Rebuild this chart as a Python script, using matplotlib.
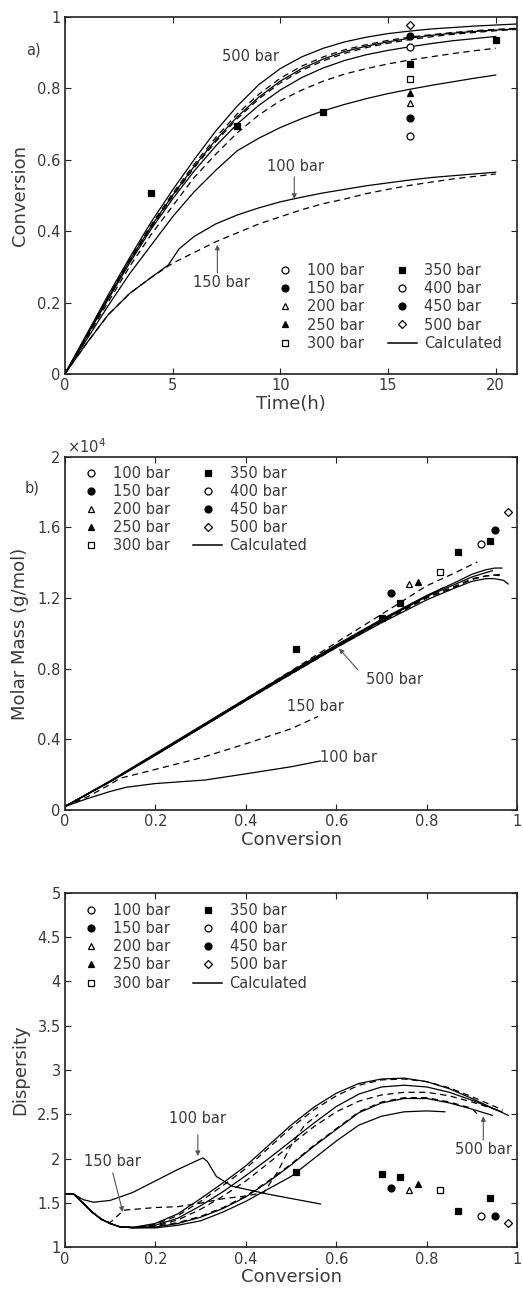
import matplotlib
matplotlib.use("Agg")
import matplotlib.pyplot as plt

plt.rcParams['font.family'] = ['DejaVu Sans']

TXT = '#3a3a3a'

# ---------------- legend entries ----------------
pressures = ['100 bar', '150 bar', '200 bar', '250 bar', '300 bar',
             '350 bar', '400 bar', '450 bar', '500 bar']
markers = ['o', 'o', '^', '^', 's', 's', 'o', 'o', 'D']
filled = [False, True, False, True, False, True, False, True, False]

# ---------------- panel a: conversion vs time ----------------
t_full = [0, 1, 2, 3, 4, 5, 6, 7, 8, 9, 10, 11, 12, 13, 14, 15, 16, 17, 18, 19, 20, 21]
t_20 = t_full[:21]
t_100 = [0, 1, 2, 3, 4, 4.8, 5.3, 6, 7, 8, 9, 10, 11, 12, 13, 14, 15, 16, 17, 18, 19, 20]
conv_100 = [0, 0.085, 0.165, 0.225, 0.27, 0.305, 0.35, 0.385, 0.42, 0.445, 0.465, 0.482,
            0.495, 0.507, 0.517, 0.527, 0.535, 0.543, 0.55, 0.555, 0.56, 0.565]
conv_150 = [0, 0.085, 0.165, 0.225, 0.27, 0.31, 0.34, 0.37, 0.395, 0.42, 0.44, 0.46,
            0.477, 0.49, 0.505, 0.517, 0.528, 0.537, 0.546, 0.553, 0.56]
conv_200 = [0, 0.095, 0.19, 0.28, 0.36, 0.44, 0.51, 0.57, 0.625, 0.66, 0.69, 0.715,
            0.737, 0.755, 0.771, 0.785, 0.797, 0.808, 0.818, 0.828, 0.837]
conv_250 = [0, 0.1, 0.2, 0.3, 0.39, 0.47, 0.55, 0.615, 0.675, 0.725, 0.765, 0.795,
            0.82, 0.84, 0.855, 0.868, 0.879, 0.888, 0.897, 0.905, 0.912]
conv_300 = [0, 0.104, 0.208, 0.31, 0.405, 0.49, 0.568, 0.638, 0.70, 0.752, 0.795, 0.83,
            0.857, 0.878, 0.894, 0.906, 0.916, 0.925, 0.933, 0.939, 0.945]
conv_350 = [0, 0.105, 0.21, 0.315, 0.41, 0.497, 0.577, 0.65, 0.715, 0.77, 0.815, 0.85,
            0.877, 0.898, 0.914, 0.926, 0.936, 0.944, 0.951, 0.956, 0.961, 0.965]
conv_400 = [0, 0.106, 0.212, 0.317, 0.413, 0.5, 0.581, 0.655, 0.72, 0.775, 0.82, 0.855,
            0.882, 0.903, 0.918, 0.93, 0.94, 0.948, 0.954, 0.959, 0.963, 0.966]
conv_450 = [0, 0.107, 0.214, 0.32, 0.417, 0.505, 0.587, 0.662, 0.728, 0.783, 0.828, 0.862,
            0.888, 0.908, 0.922, 0.934, 0.943, 0.95, 0.956, 0.961, 0.965, 0.968]
conv_500 = [0, 0.11, 0.22, 0.325, 0.425, 0.515, 0.60, 0.68, 0.75, 0.81, 0.855, 0.888,
            0.912, 0.93, 0.943, 0.953, 0.96, 0.966, 0.97, 0.974, 0.977, 0.98]

# experimental points (time, conversion) per pressure
exp_time = [[16], [16], [16], [16], [16], [4, 8, 12, 16, 20], [16], [16], [16]]
exp_conv = [[0.667], [0.717], [0.759], [0.787], [0.826],
            [0.506, 0.694, 0.734, 0.868, 0.935], [0.916], [0.945], [0.978]]

# ---------------- panel b: molar mass vs conversion ----------------
mb_x_100 = [0, 0.05, 0.1, 0.136, 0.2, 0.31, 0.4, 0.5, 0.565]
mb_y_100 = [200, 650, 1050, 1290, 1500, 1700, 2050, 2450, 2780]
mb_x_150 = [0, 0.05, 0.1, 0.122, 0.2, 0.3, 0.4, 0.5, 0.56]
mb_y_150 = [200, 750, 1450, 1800, 2300, 2950, 3750, 4600, 5300]
mb_x_200 = [0, 0.1, 0.2, 0.3, 0.4, 0.5, 0.6, 0.7, 0.8, 0.837]
mb_y_200 = [200, 1600, 3100, 4650, 6200, 7750, 9250, 10700, 12100, 12600]
mb_x_250 = [0, 0.1, 0.2, 0.3, 0.4, 0.5, 0.6, 0.7, 0.8, 0.86, 0.912]
mb_y_250 = [200, 1630, 3150, 4720, 6300, 7880, 9480, 11080, 12700, 13400, 14050]
mb_x_300 = [0, 0.1, 0.2, 0.3, 0.4, 0.5, 0.6, 0.7, 0.8, 0.86, 0.9, 0.945]
mb_y_300 = [200, 1620, 3150, 4700, 6250, 7800, 9300, 10750, 12100, 12750, 13200, 13550]
mb_x_350 = [0, 0.1, 0.2, 0.3, 0.4, 0.5, 0.6, 0.7, 0.8, 0.86, 0.9, 0.93, 0.965]
mb_y_350 = [200, 1600, 3120, 4650, 6200, 7700, 9200, 10650, 12000, 12600, 13050, 13250, 13350]
mb_x_400 = [0, 0.1, 0.2, 0.3, 0.4, 0.5, 0.6, 0.7, 0.8, 0.86, 0.9, 0.93, 0.95, 0.966]
mb_y_400 = [200, 1650, 3200, 4750, 6300, 7850, 9350, 10800, 12150, 12850, 13350, 13600, 13700, 13700]
mb_x_450 = [0, 0.1, 0.2, 0.3, 0.4, 0.5, 0.6, 0.7, 0.8, 0.86, 0.9, 0.93, 0.95, 0.968]
mb_y_450 = [200, 1610, 3130, 4680, 6220, 7750, 9250, 10700, 12050, 12650, 13100, 13250, 13300, 13250]
mb_x_500 = [0, 0.1, 0.2, 0.3, 0.4, 0.5, 0.6, 0.7, 0.8, 0.86, 0.9, 0.93, 0.95, 0.97, 0.98]
mb_y_500 = [200, 1600, 3100, 4650, 6200, 7700, 9200, 10600, 11900, 12550, 12950, 13100, 13100, 13000, 12800]

exp_mb_x = [[], [0.72], [0.76], [0.78], [0.83], [0.51, 0.70, 0.74, 0.87, 0.94], [0.92], [0.95], [0.98]]
exp_mb_y = [[], [12300], [12800], [12900], [13500], [9100, 10900, 11700, 14600, 15250],
            [15060], [15850], [16900]]

# ---------------- panel c: dispersity vs conversion ----------------
dc_x_100 = [0, 0.02, 0.04, 0.063, 0.1, 0.15, 0.2, 0.25, 0.305, 0.315, 0.335, 0.37, 0.45, 0.565]
dc_y_100 = [1.6, 1.6, 1.54, 1.51, 1.53, 1.62, 1.75, 1.88, 2.01, 1.97, 1.80, 1.69, 1.60, 1.49]
dc_x_150 = [0, 0.02, 0.04, 0.06, 0.08, 0.1, 0.13, 0.2, 0.25, 0.3, 0.35, 0.4, 0.44, 0.47, 0.5, 0.53, 0.56]
dc_y_150 = [1.6, 1.6, 1.5, 1.4, 1.32, 1.28, 1.42, 1.45, 1.46, 1.5, 1.55, 1.58, 1.62, 1.85, 2.15, 2.38, 2.5]
dc_x_200 = [0, 0.02, 0.04, 0.06, 0.08, 0.1, 0.12, 0.15, 0.2, 0.25, 0.3, 0.35, 0.4, 0.45, 0.5,
            0.55, 0.6, 0.65, 0.7, 0.75, 0.8, 0.84]
dc_y_200 = [1.6, 1.6, 1.5, 1.4, 1.32, 1.27, 1.235, 1.22, 1.22, 1.25, 1.3, 1.4, 1.52, 1.66, 1.8,
            2.0, 2.2, 2.38, 2.48, 2.53, 2.54, 2.53]
dc_x_band = [0, 0.02, 0.04, 0.06, 0.08, 0.1, 0.12, 0.15, 0.2, 0.25, 0.3, 0.35, 0.4, 0.45, 0.5,
             0.55, 0.6, 0.65, 0.7, 0.75, 0.8, 0.85, 0.9]
dc_y_250 = [1.6, 1.6, 1.5, 1.4, 1.32, 1.27, 1.235, 1.222, 1.235, 1.28, 1.35, 1.45, 1.58, 1.75,
            1.94, 2.15, 2.34, 2.53, 2.64, 2.69, 2.69, 2.64, 2.57]
dc_y_300 = [1.6, 1.6, 1.5, 1.4, 1.32, 1.27, 1.235, 1.222, 1.23, 1.27, 1.34, 1.44, 1.57, 1.74,
            1.93, 2.14, 2.33, 2.52, 2.63, 2.68, 2.68, 2.63, 2.56]
dc_y_350 = [1.6, 1.6, 1.5, 1.4, 1.32, 1.27, 1.235, 1.225, 1.24, 1.31, 1.43, 1.58, 1.75, 1.95,
            2.16, 2.36, 2.53, 2.65, 2.72, 2.75, 2.75, 2.71, 2.64]
dc_y_400 = [1.6, 1.6, 1.5, 1.4, 1.32, 1.27, 1.235, 1.225, 1.25, 1.33, 1.47, 1.63, 1.81, 2.0,
            2.2, 2.4, 2.59, 2.73, 2.81, 2.83, 2.81, 2.75, 2.66]
dc_y_450 = [1.6, 1.6, 1.5, 1.4, 1.32, 1.27, 1.235, 1.225, 1.26, 1.36, 1.52, 1.70, 1.89, 2.12,
            2.35, 2.55, 2.71, 2.83, 2.89, 2.9, 2.87, 2.8, 2.7]
dc_y_500 = [1.6, 1.6, 1.5, 1.4, 1.32, 1.27, 1.235, 1.225, 1.27, 1.38, 1.55, 1.73, 1.92, 2.15,
            2.38, 2.58, 2.74, 2.85, 2.9, 2.91, 2.87, 2.79, 2.68]
dc_end_x = {'250': [0.912], '300': [0.945], '350': [0.95, 0.965], '400': [0.95, 0.966],
            '450': [0.95, 0.968], '500': [0.95, 0.98]}
dc_end_y = {'250': [2.5], '300': [2.49], '350': [2.56, 2.53], '400': [2.56, 2.53],
            '450': [2.59, 2.55], '500': [2.56, 2.49]}

exp_dc_x = [[], [0.72], [0.76], [0.78], [0.83], [0.51, 0.70, 0.74, 0.87, 0.94], [0.92], [0.95], [0.98]]
exp_dc_y = [[], [1.67], [1.65], [1.71], [1.65], [1.85, 1.83, 1.80, 1.41, 1.56], [1.36], [1.35], [1.28]]

# ---------------- drawing helpers ----------------
LW = 0.9
DASH = (0, (5, 3.5))


def style_axes(ax):
    for s in ax.spines.values():
        s.set_linewidth(1.2)
        s.set_color('#222222')
    ax.tick_params(direction='in', top=True, right=True, length=4, width=0.8,
                   labelsize=10.5, labelcolor=TXT, color='#222222', pad=3)


def draw_points(ax, xs, ys):
    for i in range(len(pressures)):
        if len(xs[i]) == 0:
            continue
        ax.plot(xs[i], ys[i], linestyle='none', marker=markers[i],
                markersize=5 if markers[i] != 'D' else 4.3,
                markerfacecolor='black' if filled[i] else 'white',
                markeredgecolor='black', markeredgewidth=0.9, zorder=5)


def add_legend(ax, loc, anchor):
    handles = []
    for i in range(len(pressures)):
        h, = ax.plot([], [], linestyle='none', marker=markers[i],
                     markersize=5 if markers[i] != 'D' else 4.3,
                     markerfacecolor='black' if filled[i] else 'white',
                     markeredgecolor='black', markeredgewidth=0.9)
        handles.append(h)
    hl, = ax.plot([], [], color='black', lw=LW + 0.2)
    handles.append(hl)
    labels = pressures + ['Calculated']
    leg = ax.legend(handles, labels, ncol=2, frameon=False, loc=loc,
                    bbox_to_anchor=anchor, fontsize=10.5, handlelength=2.0,
                    handletextpad=0.5, columnspacing=1.6, labelspacing=0.22,
                    borderaxespad=0.0, borderpad=0.0)
    for txt in leg.get_texts():
        txt.set_color(TXT)
    return leg


def note(ax, text, xy_text, xy_arrow_from=None, xy_arrow_to=None):
    ax.text(xy_text[0], xy_text[1], text, ha='center', va='center',
            fontsize=10.5, color=TXT, zorder=6)
    if xy_arrow_from is not None:
        ax.annotate('', xy=xy_arrow_to, xytext=xy_arrow_from,
                    arrowprops=dict(arrowstyle='-|>', color='#555555', lw=0.8,
                                    mutation_scale=7, shrinkA=0, shrinkB=0))


fig = plt.figure(figsize=(5.23, 12.94), dpi=100)

# ---------------- panel a ----------------
ax1 = fig.add_axes([0.124, 0.711, 0.865, 0.276])
ax1.plot(t_100, conv_100, color='black', lw=LW)
ax1.plot(t_20, conv_150, color='black', lw=LW, linestyle=DASH)
ax1.plot(t_20, conv_200, color='black', lw=LW)
ax1.plot(t_20, conv_250, color='black', lw=LW, linestyle=DASH)
ax1.plot(t_20, conv_300, color='black', lw=LW)
ax1.plot(t_full, conv_350, color='black', lw=LW, linestyle=DASH)
ax1.plot(t_full, conv_400, color='black', lw=LW)
ax1.plot(t_full, conv_450, color='black', lw=LW, linestyle=DASH)
ax1.plot(t_full, conv_500, color='black', lw=LW)
draw_points(ax1, exp_time, exp_conv)
ax1.set_xlim(0, 21)
ax1.set_ylim(0, 1)
ax1.set_xticks([0, 5, 10, 15, 20])
ax1.set_yticks([0, 0.2, 0.4, 0.6, 0.8, 1.0])
ax1.set_yticklabels(['0', '0.2', '0.4', '0.6', '0.8', '1'])
ax1.set_xlabel('Time(h)', fontsize=13, color=TXT, labelpad=1)
ax1.set_ylabel('Conversion', fontsize=13, color=TXT, labelpad=6)
style_axes(ax1)
add_legend(ax1, 'lower left', (0.455, 0.065))
ax1.text(-0.07, 0.907, 'a)', transform=ax1.transAxes, fontsize=10.5, color=TXT,
         ha='center', va='center')
note(ax1, '500 bar', (8.6, 0.888))
note(ax1, '100 bar', (10.7, 0.58), (10.65, 0.552), (10.65, 0.49))
note(ax1, '150 bar', (7.27, 0.255), (7.08, 0.283), (7.08, 0.362))

# ---------------- panel b ----------------
ax2 = fig.add_axes([0.124, 0.374, 0.865, 0.273])
ax2.plot(mb_x_100, mb_y_100, color='black', lw=LW)
ax2.plot(mb_x_150, mb_y_150, color='black', lw=LW, linestyle=DASH)
ax2.plot(mb_x_200, mb_y_200, color='black', lw=LW)
ax2.plot(mb_x_250, mb_y_250, color='black', lw=LW, linestyle=DASH)
ax2.plot(mb_x_300, mb_y_300, color='black', lw=LW)
ax2.plot(mb_x_350, mb_y_350, color='black', lw=LW, linestyle=DASH)
ax2.plot(mb_x_400, mb_y_400, color='black', lw=LW)
ax2.plot(mb_x_450, mb_y_450, color='black', lw=LW, linestyle=DASH)
ax2.plot(mb_x_500, mb_y_500, color='black', lw=LW)
draw_points(ax2, exp_mb_x, exp_mb_y)
ax2.set_xlim(0, 1)
ax2.set_ylim(0, 20000)
ax2.set_xticks([0, 0.2, 0.4, 0.6, 0.8, 1.0])
ax2.set_xticklabels(['0', '0.2', '0.4', '0.6', '0.8', '1'])
ax2.set_yticks([0, 4000, 8000, 12000, 16000, 20000])
ax2.set_yticklabels(['0', '0.4', '0.8', '1.2', '1.6', '2'])
ax2.set_xlabel('Conversion', fontsize=13, color=TXT, labelpad=1)
ax2.set_ylabel('Molar Mass (g/mol)', fontsize=13, color=TXT, labelpad=6)
style_axes(ax2)
ax2.text(0.005, 1.003, r'$\times10^{4}$', transform=ax2.transAxes, fontsize=10.5,
         color=TXT, ha='left', va='bottom')
add_legend(ax2, 'upper left', (0.025, 0.975))
ax2.text(-0.073, 0.912, 'b)', transform=ax2.transAxes, fontsize=10.5, color=TXT,
         ha='center', va='center')
note(ax2, '500 bar', (0.728, 7370), (0.648, 7930), (0.606, 9150))
note(ax2, '150 bar', (0.553, 5840))
ax2.text(0.563, 2950, '100 bar', ha='left', va='center', fontsize=10.5, color=TXT)

# ---------------- panel c ----------------
ax3 = fig.add_axes([0.124, 0.036, 0.865, 0.274])
ax3.plot(dc_x_100, dc_y_100, color='black', lw=LW)
ax3.plot(dc_x_150, dc_y_150, color='black', lw=LW, linestyle=DASH)
ax3.plot(dc_x_200, dc_y_200, color='black', lw=LW)
ax3.plot(dc_x_band + dc_end_x['250'], dc_y_250 + dc_end_y['250'], color='black', lw=LW, linestyle=DASH)
ax3.plot(dc_x_band + dc_end_x['300'], dc_y_300 + dc_end_y['300'], color='black', lw=LW)
ax3.plot(dc_x_band + dc_end_x['350'], dc_y_350 + dc_end_y['350'], color='black', lw=LW, linestyle=DASH)
ax3.plot(dc_x_band + dc_end_x['400'], dc_y_400 + dc_end_y['400'], color='black', lw=LW)
ax3.plot(dc_x_band + dc_end_x['450'], dc_y_450 + dc_end_y['450'], color='black', lw=LW, linestyle=DASH)
ax3.plot(dc_x_band + dc_end_x['500'], dc_y_500 + dc_end_y['500'], color='black', lw=LW)
draw_points(ax3, exp_dc_x, exp_dc_y)
ax3.set_xlim(0, 1)
ax3.set_ylim(1, 5)
ax3.set_xticks([0, 0.2, 0.4, 0.6, 0.8, 1.0])
ax3.set_xticklabels(['0', '0.2', '0.4', '0.6', '0.8', '1'])
ax3.set_yticks([1, 1.5, 2, 2.5, 3, 3.5, 4, 4.5, 5])
ax3.set_yticklabels(['1', '1.5', '2', '2.5', '3', '3.5', '4', '4.5', '5'])
ax3.set_xlabel('Conversion', fontsize=13, color=TXT, labelpad=1)
ax3.set_ylabel('Dispersity', fontsize=13, color=TXT, labelpad=6)
style_axes(ax3)
add_legend(ax3, 'upper left', (0.025, 0.972))
note(ax3, '100 bar', (0.294, 2.46), (0.294, 2.27), (0.294, 2.03))
note(ax3, '150 bar', (0.106, 1.97), (0.106, 1.84), (0.128, 1.40))
note(ax3, '500 bar', (0.925, 2.11), (0.925, 2.21), (0.925, 2.48))

fig.savefig('out.png', dpi=100)
